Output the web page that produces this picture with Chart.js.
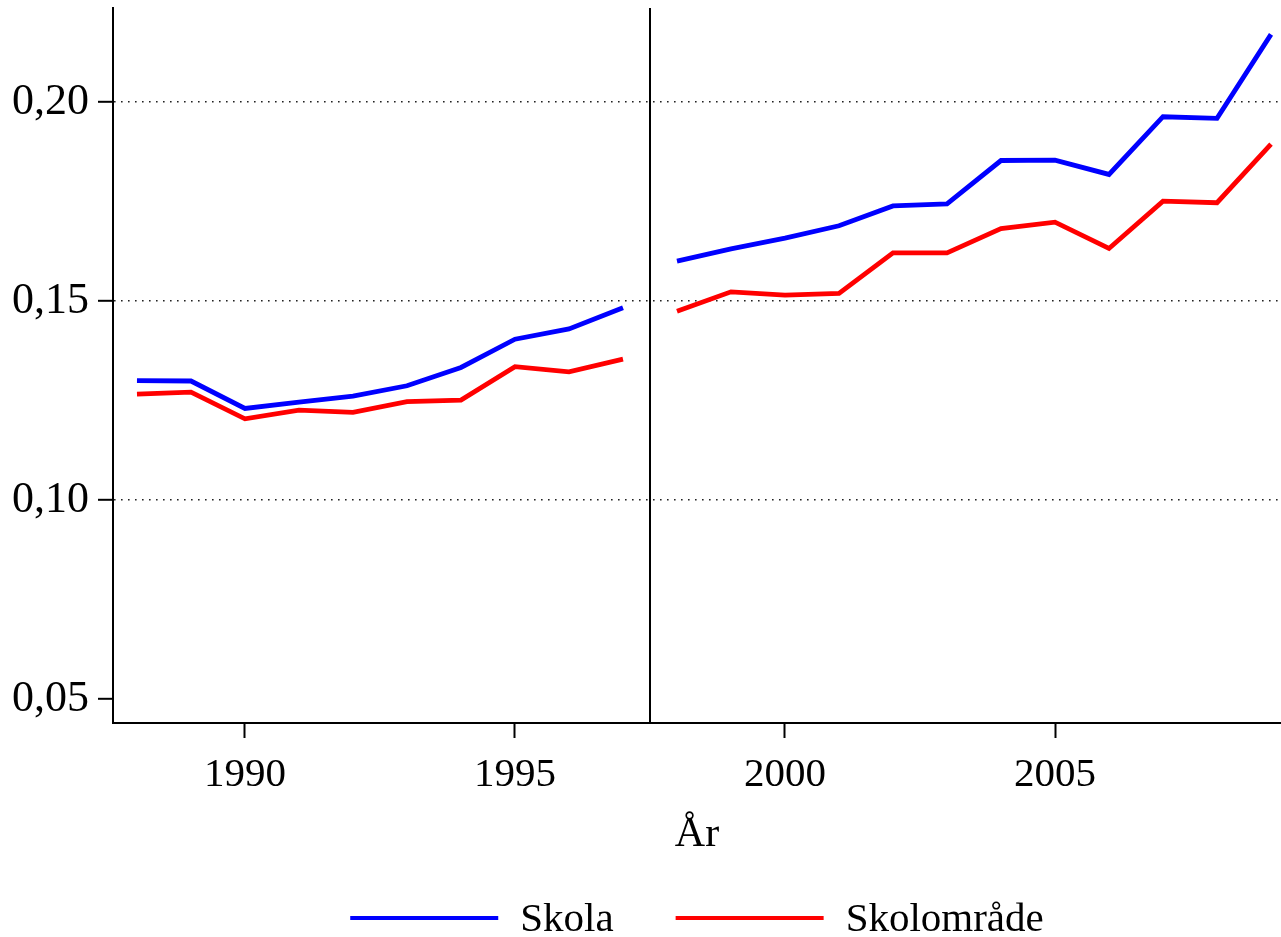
<!DOCTYPE html>
<html>
<head>
<meta charset="utf-8">
<script src="https://cdn.jsdelivr.net/npm/chart.js@4"></script>
<style>
  body { margin: 0; background: #fff; }
  #wrap { width: 1281px; height: 937px; position: relative; }
</style>
</head>
<body>
<div id="wrap"><canvas id="chart"></canvas></div>
<script>
const years = [1988, 1989, 1990, 1991, 1992, 1993, 1994, 1995, 1996, 1997, 1998,
               1999, 2000, 2001, 2002, 2003, 2004, 2005, 2006, 2007, 2008, 2009];
const skola = [0.1300, 0.1299, 0.1230, 0.1246, 0.1261, 0.1287, 0.1333, 0.1404, 0.1430, 0.1483, 0.1600,
               0.1631, 0.1658, 0.1689, 0.1739, 0.1744, 0.1853, 0.1854, 0.1818, 0.1963, 0.1959, 0.2170];
const skolomrade = [0.1266, 0.1271, 0.1204, 0.1226, 0.1220, 0.1247, 0.1251, 0.1335, 0.1322, 0.1354, 0.1474,
                    0.1523, 0.1515, 0.1519, 0.1621, 0.1621, 0.1682, 0.1698, 0.1632, 0.1751, 0.1747, 0.1894];
const xTicks = [1990, 1995, 2000, 2005];
const yTicks = [0.05, 0.10, 0.15, 0.20];
const breakYear = 1997.5;

const serif = "'Liberation Serif', 'Times New Roman', serif";

// series with a gap at the break
function withGap(values) {
    const pts = [];
    years.forEach((yr, i) => {
        pts.push({x: yr, y: values[i]});
        if (yr < breakYear && years[i + 1] > breakYear) pts.push({x: breakYear, y: null});
    });
    return pts;
}

const breakLine = {
    id: 'breakLine',
    beforeDatasetsDraw(chart) {
        const {ctx, chartArea, scales} = chart;
        const x = Math.round(scales.x.getPixelForValue(breakYear));
        ctx.save();
        ctx.strokeStyle = '#000';
        ctx.lineWidth = 2;
        ctx.beginPath();
        ctx.moveTo(x, chartArea.top);
        ctx.lineTo(x, chartArea.bottom);
        ctx.stroke();
        ctx.restore();
    }
};

// legend under the plot, centred on the chart area
const bottomLegend = {
    id: 'bottomLegend',
    afterDraw(chart) {
        const {ctx, chartArea} = chart;
        const lineLen = 148, gap = 22, itemGap = 62, yMid = 918;
        ctx.save();
        ctx.font = '41px ' + serif;
        ctx.textBaseline = 'middle';
        const items = chart.data.datasets.map(ds => ({
            text: ds.label, color: ds.borderColor, w: ctx.measureText(ds.label).width
        }));
        const total = items.reduce((s, it) => s + lineLen + gap + it.w, 0) + itemGap * (items.length - 1);
        let x = (chartArea.left + chartArea.right) / 2 - total / 2;
        items.forEach(it => {
            ctx.fillStyle = it.color;
            ctx.fillRect(x, yMid - 2, lineLen, 4);
            x += lineLen + gap;
            ctx.fillStyle = '#000';
            ctx.fillText(it.text, x, yMid + 2);
            x += it.w + itemGap;
        });
        ctx.restore();
    }
};

const ctx = document.getElementById('chart').getContext('2d');
const chart = new Chart(ctx, {
    type: 'line',
    data: {
        datasets: [{
            label: 'Skola',
            data: withGap(skola),
            borderColor: '#0000ff',
            backgroundColor: '#0000ff',
            borderWidth: 4.8,
            pointRadius: 0,
            spanGaps: false
        }, {
            label: 'Skolområde',
            data: withGap(skolomrade),
            borderColor: '#ff0000',
            backgroundColor: '#ff0000',
            borderWidth: 4.8,
            pointRadius: 0,
            spanGaps: false
        }]
    },
    options: {
        responsive: true,
        maintainAspectRatio: false,
        animation: false,
        layout: {padding: {top: 8, right: 0, left: 0, bottom: 77}},
        plugins: {
            tooltip: {enabled: false},
            legend: {display: false}
        },
        scales: {
            x: {
                type: 'linear',
                min: 1987.556,
                max: 2009.185,
                afterBuildTicks(axis) { axis.ticks = xTicks.map(v => ({value: v})); },
                afterFit(axis) {
                    axis.height = 137;
                    axis.paddingLeft = 0;
                    axis.paddingRight = 0;
                },
                grid: {drawOnChartArea: false, tickLength: 15, tickWidth: 2, tickColor: '#000'},
                border: {color: '#000', width: 2},
                ticks: {
                    color: '#000',
                    padding: 13,
                    maxRotation: 0,
                    font: {family: serif, size: 41},
                    callback: v => String(v)
                },
                title: {
                    display: true,
                    text: 'År',
                    color: '#000',
                    font: {family: serif, size: 42},
                    padding: {top: 0, bottom: 0}
                }
            },
            y: {
                min: 0.04397,
                max: 0.22362,
                afterBuildTicks(axis) { axis.ticks = yTicks.map(v => ({value: v})); },
                afterFit(axis) {
                    axis.width = 113;
                    axis.paddingTop = 0;
                    axis.paddingBottom = 0;
                },
                grid: {
                    color: c => (c.tick && c.tick.value > 0.06) ? '#222' : 'rgba(0,0,0,0)',
                    lineWidth: 1.6,
                    tickLength: 15,
                    tickWidth: 2,
                    tickColor: '#000'
                },
                border: {color: '#000', width: 2, dash: [1.6, 5.4]},
                ticks: {
                    color: '#000',
                    padding: 9,
                    font: {family: serif, size: 44},
                    callback: v => v.toFixed(2).replace('.', ',')
                }
            }
        }
    },
    plugins: [breakLine, bottomLegend]
});
</script>
</body>
</html>
